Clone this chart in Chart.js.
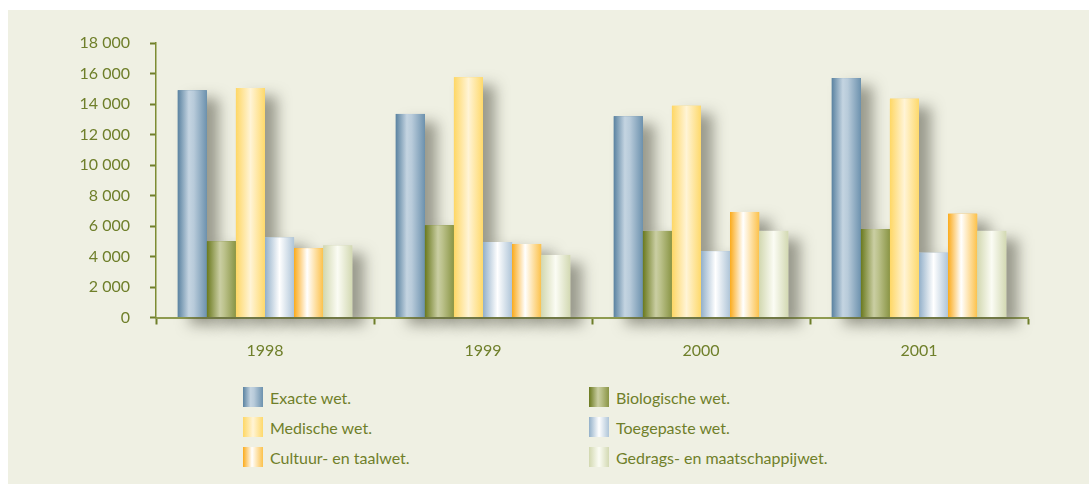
<!DOCTYPE html>
<html>
<head>
<meta charset="utf-8">
<script src="https://cdn.jsdelivr.net/npm/chart.js@4.4.0/dist/chart.umd.min.js"></script>
<style>
  body { margin: 0; background: #fff; width: 1089px; height: 484px; overflow: hidden; font-family: Lato, sans-serif; }
  #panel { position: absolute; left: 8px; top: 10px; width: 1081px; height: 474px; background: #eff0e3; }
  #chart { position: absolute; left: 0; top: 0; }
  #legend { position: absolute; left: 235px; top: 377px; display: grid; grid-template-columns: 346px auto; row-gap: 10px; }
  .item { display: flex; align-items: center; height: 20px; font-size: 16px; color: #6f7f2a; }
  .swatch { width: 20px; height: 20px; margin-right: 7px; }
</style>
</head>
<body>
<div id="panel">
  <canvas id="chart" width="1081" height="372"></canvas>
  <div id="legend"></div>
</div>
<script>
// Years on the x axis
const years = ['1998', '1999', '2000', '2001'];

// Series per field of study
const exacte = [14900, 13350, 13200, 15700];
const biologische = [5000, 6050, 5680, 5800];
const medische = [15050, 15750, 13880, 14350];
const toegepaste = [5250, 4950, 4350, 4250];
const cultuur = [4550, 4820, 6920, 6800];
const gedrags = [4720, 4100, 5680, 5680];

const seriesNames = ['Exacte wet.', 'Biologische wet.', 'Medische wet.', 'Toegepaste wet.', 'Cultuur- en taalwet.', 'Gedrags- en maatschappijwet.'];
const seriesValues = [exacte, biologische, medische, toegepaste, cultuur, gedrags];

// Y axis range
const yMin = 0;
const yMax = 18000;
const yStep = 2000;

// Cylinder shading: colour stops from left to right across each bar
const shades = [
  [[0, '#5b83a1'], [0.38, '#c4d4e1'], [0.55, '#b8cbda'], [1, '#6d92ae']],
  [[0, '#6a791e'], [0.45, '#cacea3'], [0.6, '#bcc28c'], [1, '#8a9545']],
  [[0, '#fed765'], [0.5, '#fff4d6'], [1, '#fed96b']],
  [[0, '#93b0c9'], [0.5, '#ffffff'], [1, '#afc5d8']],
  [[0, '#fbab1c'], [0.45, '#ffffff'], [1, '#fcc24c']],
  [[0, '#d2d8b0'], [0.5, '#fbfcf4'], [1, '#d3d9b3']]
];

const olive = '#6f7f2a';

const barShading = {
  id: 'barShading',
  beforeDatasetsDraw(chart) {
    // soft drop shadow behind every bar
    const ctx = chart.ctx;
    ctx.save();
    ctx.shadowColor = 'rgba(70, 70, 55, 0.5)';
    ctx.shadowBlur = 14;
    ctx.shadowOffsetX = 12;
    ctx.shadowOffsetY = 8;
    ctx.fillStyle = '#e4e5d8';
    chart.data.datasets.forEach((ds, i) => {
      chart.getDatasetMeta(i).data.forEach(bar => {
        const p = bar.getProps(['x', 'y', 'base', 'width'], true);
        ctx.fillRect(p.x - p.width / 2, p.y, p.width, p.base - p.y);
      });
    });
    ctx.restore();
  },
  afterDatasetsDraw(chart) {
    const ctx = chart.ctx;
    ctx.save();
    chart.data.datasets.forEach((ds, i) => {
      chart.getDatasetMeta(i).data.forEach(bar => {
        const p = bar.getProps(['x', 'y', 'base', 'width'], true);
        const left = p.x - p.width / 2;
        const g = ctx.createLinearGradient(left, 0, left + p.width, 0);
        shades[i].forEach(s => g.addColorStop(s[0], s[1]));
        ctx.fillStyle = g;
        ctx.fillRect(left, p.y, p.width, p.base - p.y);
      });
    });
    ctx.restore();
  }
};

const datasets = seriesNames.map((name, i) => ({
  label: name,
  data: seriesValues[i],
  backgroundColor: shades[i][0][1],
  borderWidth: 0,
  categoryPercentage: 0.8,
  barPercentage: 1.0
}));

new Chart(document.getElementById('chart'), {
  type: 'bar',
  data: { labels: years, datasets: datasets },
  plugins: [barShading],
  options: {
    responsive: false,
    devicePixelRatio: 1,
    animation: false,
    layout: { padding: { top: 33, right: 61, left: 0, bottom: 0 } },
    plugins: { legend: { display: false }, tooltip: { enabled: false } },
    scales: {
      x: {
        z: 1,
        afterFit: s => { s.height = 64.5; },
        grid: { offset: true, drawOnChartArea: false, tickLength: 7, tickWidth: 2, tickColor: olive },
        border: { color: '#8f9b50', width: 2 },
        ticks: { color: olive, font: { family: 'Lato', size: 16 }, padding: 17 }
      },
      y: {
        z: 1,
        min: yMin,
        max: yMax,
        afterFit: s => { s.width = 148; },
        grid: { drawOnChartArea: false, tickLength: 6, tickWidth: 2, tickColor: olive },
        border: { color: '#7d8c33', width: 1.5 },
        ticks: {
          stepSize: yStep,
          color: olive,
          font: { family: 'Lato', size: 16 },
          padding: 20,
          callback: v => String(v).replace(/\B(?=(\d{3})+(?!\d))/g, ' ')
        }
      }
    }
  }
});

// Legend in two columns, same order as the series
const legend = document.getElementById('legend');
seriesNames.forEach((name, i) => {
  const item = document.createElement('div');
  item.className = 'item';
  const sw = document.createElement('span');
  sw.className = 'swatch';
  sw.style.background = 'linear-gradient(to right, ' + shades[i].map(s => s[1] + ' ' + (s[0] * 100) + '%').join(', ') + ')';
  const label = document.createElement('span');
  label.textContent = name;
  item.appendChild(sw);
  item.appendChild(label);
  legend.appendChild(item);
});
</script>
</body>
</html>
